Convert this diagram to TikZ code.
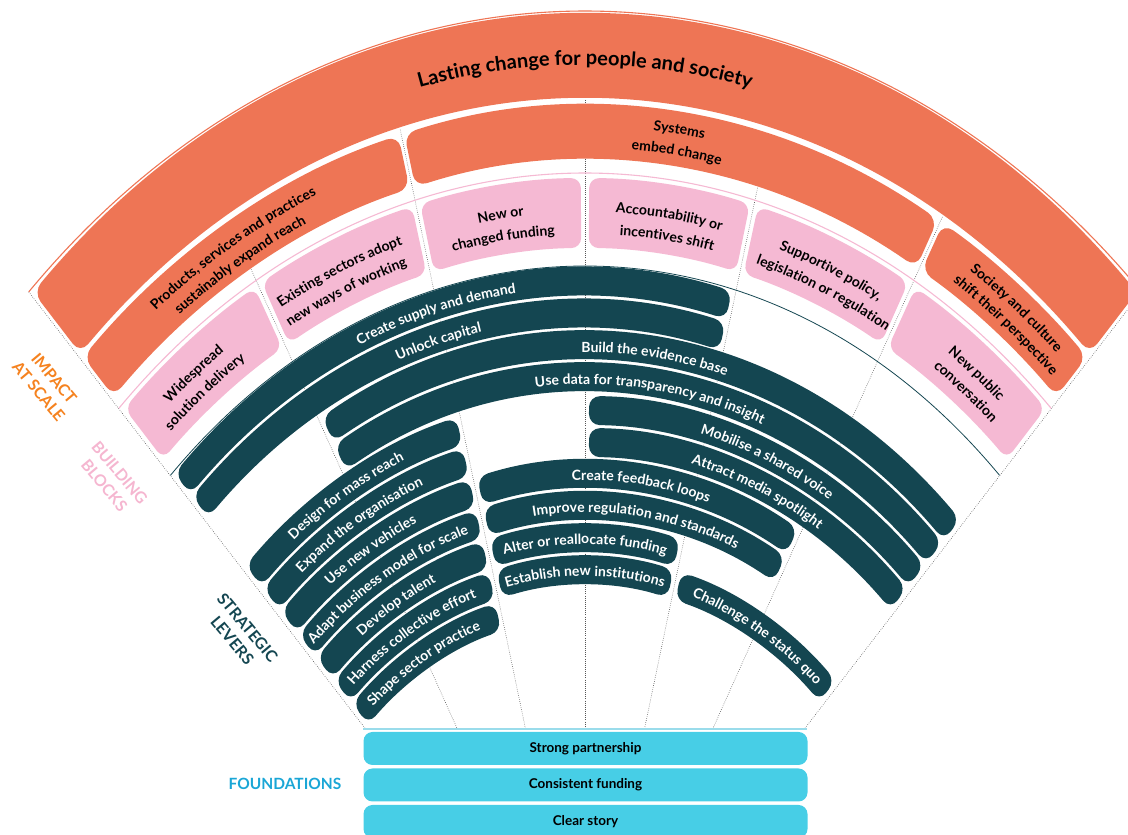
\documentclass[tikz,border=0pt]{standalone}
\usepackage{fontspec}
\setmainfont{Lato}
\usetikzlibrary{decorations.text}
\definecolor{orng}{HTML}{EE7555}
\definecolor{pnk}{HTML}{F5B9D3}
\definecolor{tl}{HTML}{144651}
\definecolor{cyn}{HTML}{47CEE6}
\definecolor{lblorange}{HTML}{F5821F}
\definecolor{lblpink}{HTML}{F5B6D0}
\definecolor{lblblue}{HTML}{1AA6D6}
\definecolor{fline}{HTML}{9ADCEB}
\definecolor{dotgray}{HTML}{555555}
% ring line across the whole fan
\newcommand\fanring[2]{\draw[#2] ({585+0.8*(#1)*sin(-44)},{-177+(#1)*cos(-44)}) arc[start angle=134, end angle=46, x radius={0.8*(#1)}, y radius={#1}];}
% annular sector: th1, th2, r outer, r inner, gap, style
\newcommand\fansect[6]{%
 \pgfmathsetmacro\sA{(#1)+(#5)/(0.4*((#3)+(#4)))*57.2958}%
 \pgfmathsetmacro\sB{(#2)-(#5)/(0.4*((#3)+(#4)))*57.2958}%
 \fill[#6] ({585+0.8*(#3)*sin(\sA)},{-177+(#3)*cos(\sA)}) arc[start angle={90-(\sA)}, end angle={90-(\sB)}, x radius={0.8*(#3)}, y radius={#3}] -- ({585+0.8*(#4)*sin(\sB)},{-177+(#4)*cos(\sB)}) arc[start angle={90-(\sB)}, end angle={90-(\sA)}, x radius={0.8*(#4)}, y radius={#4}] -- cycle;}
% radial dotted line: name, angle, start radius
\newcommand\fanradial[3]{%
 \coordinate (#1s) at ({585+0.8*(#3)*sin(#2)},{-177+(#3)*cos(#2)});
 \coordinate (#1e) at ({585+228*tan(#2)},107);
 \draw[radialline] (#1s) -- (#1e);}
% text along an arc: centre angle, baseline radius, format, text
\newcommand\arctxt[4]{%
 \path[decorate,decoration={text along path,text align=center,text={|#3|#4}}]
 ({585+0.8*(#2)*sin((#1)-18)},{-177+(#2)*cos((#1)-18)}) arc[start angle={108-(#1)}, end angle={72-(#1)}, x radius={0.8*(#2)}, y radius={#2}];}
\def\tfmt{\color{white}\bfseries\fontsize{14}{16}\selectfont}
\def\bfmt{\color{black}\bfseries\fontsize{14}{16}\selectfont}
\def\lfmt{\color{black}\bfseries\fontsize{20}{22}\selectfont}
\tikzset{
 orngbox/.style={fill=orng, rounded corners=12pt},
 pinkbox/.style={fill=pnk, rounded corners=10pt},
 tealbox/.style={fill=tl, rounded corners=11pt},
 radialline/.style={draw=dotgray, line width=0.6pt, dash pattern=on 0.6pt off 1.5pt},
 sidelabel/.style={font=\bfseries\fontsize{16}{20}\selectfont, align=center, rotate=-50},
 fbox/.style={fill=cyn, rounded corners=9pt, minimum width=444pt, minimum height=33pt, inner sep=0pt, font=\bfseries\fontsize{13.5}{15}\selectfont},
}
\begin{document}
\begin{tikzpicture}[x=1pt,y=1pt]
\useasboundingbox (0,0) rectangle (1128,835);
% radial dotted lines
\fanradial{rL}{-44}{1001}
\fanradial{rR}{44}{1001}
\fanradial{rA}{-29.333}{852}
\fanradial{rB}{-14.667}{912}
\fanradial{rC}{0}{912}
\fanradial{rD}{14.667}{852}
\fanradial{rE}{29.333}{912}
% thin ring lines
\fanring{1001}{orng, line width=1.1pt}
\fanring{839}{pnk, line width=1.1pt}
\fanring{746}{tl, line width=0.8pt}
% impact at scale
\fansect{-44}{44}{997}{912}{3}{orngbox}
\fansect{-44}{-14.667}{907}{852}{3}{orngbox}
\fansect{-14.667}{29.333}{907}{852}{3}{orngbox}
\fansect{29.333}{44}{907}{852}{3}{orngbox}
% building blocks
\fansect{-44}{-29.333}{834}{764}{4}{pinkbox}
\fansect{-29.333}{-14.667}{834}{764}{4}{pinkbox}
\fansect{-14.667}{0}{834}{764}{4}{pinkbox}
\fansect{0}{14.667}{834}{764}{4}{pinkbox}
\fansect{14.667}{29.333}{834}{764}{4}{pinkbox}
\fansect{29.333}{44}{834}{764}{4}{pinkbox}
% strategic levers
\fansect{-44}{14.667}{744}{715}{4}{tealbox}
\fansect{-44}{14.667}{712}{683}{4}{tealbox}
\fansect{-29.333}{44}{680}{651}{4}{tealbox}
\fansect{-29.333}{44}{648}{619}{4}{tealbox}
\fansect{-44}{-14.667}{616}{587}{4}{tealbox}
\fansect{0}{44}{616}{587}{4}{tealbox}
\fansect{-44}{-14.667}{584}{555}{4}{tealbox}
\fansect{0}{44}{584}{555}{4}{tealbox}
\fansect{-44}{-14.667}{552}{523}{4}{tealbox}
\fansect{-14.667}{29.333}{552}{523}{4}{tealbox}
\fansect{-44}{-14.667}{520}{491}{4}{tealbox}
\fansect{-14.667}{29.333}{520}{491}{4}{tealbox}
\fansect{-44}{-14.667}{488}{459}{4}{tealbox}
\fansect{-14.667}{14.667}{488}{459}{4}{tealbox}
\fansect{-44}{-14.667}{456}{427}{4}{tealbox}
\fansect{-14.667}{14.667}{456}{427}{4}{tealbox}
\fansect{14.667}{44}{456}{427}{4}{tealbox}
\fansect{-44}{-14.667}{424}{395}{4}{tealbox}
% texts: impact
\arctxt{0}{947}{\lfmt}{Lasting change for people and society}
\arctxt{-29.4}{883}{\bfmt}{Products, services and practices}
\arctxt{-29.4}{862}{\bfmt}{sustainably expand reach}
\arctxt{7.4}{886}{\bfmt}{Systems}
\arctxt{7.4}{864}{\bfmt}{embed change}
\arctxt{36.8}{884}{\bfmt}{Society and culture}
\arctxt{36.8}{863}{\bfmt}{shift their perspective}
% texts: building blocks
\arctxt{-36.8}{800}{\bfmt}{Widespread}
\arctxt{-36.8}{778}{\bfmt}{solution delivery}
\arctxt{-22}{800}{\bfmt}{Existing sectors adopt}
\arctxt{-22}{778}{\bfmt}{new ways of working}
\arctxt{-7.33}{800}{\bfmt}{New or}
\arctxt{-7.33}{778}{\bfmt}{changed funding}
\arctxt{7.33}{800}{\bfmt}{Accountability or}
\arctxt{7.33}{778}{\bfmt}{incentives shift}
\arctxt{22}{800}{\bfmt}{Supportive policy,}
\arctxt{22}{778}{\bfmt}{legislation or regulation}
\arctxt{36.8}{800}{\bfmt}{New public}
\arctxt{36.8}{778}{\bfmt}{conversation}
% texts: levers
\arctxt{-14.6}{724}{\tfmt}{Create supply and demand}
\arctxt{-14.9}{692}{\tfmt}{Unlock capital}
\arctxt{7.4}{660}{\tfmt}{Build the evidence base}
\arctxt{7.4}{628}{\tfmt}{Use data for transparency and insight}
\arctxt{-29.5}{596}{\tfmt}{Design for mass reach}
\arctxt{22}{596}{\tfmt}{Mobilise a shared voice}
\arctxt{-29.5}{564}{\tfmt}{Expand the organisation}
\arctxt{22}{564}{\tfmt}{Attract media spotlight}
\arctxt{-29.5}{532}{\tfmt}{Use new vehicles}
\arctxt{7.4}{532}{\tfmt}{Create feedback loops}
\arctxt{-29.5}{500}{\tfmt}{Adapt business model for scale}
\arctxt{7.3}{500}{\tfmt}{Improve regulation and standards}
\arctxt{-29.5}{468}{\tfmt}{Develop talent}
\arctxt{0}{468}{\tfmt}{Alter or reallocate funding}
\arctxt{-29.5}{436}{\tfmt}{Harness collective effort}
\arctxt{0}{436}{\tfmt}{Establish new institutions}
\arctxt{29.33}{436}{\tfmt}{Challenge the status quo}
\arctxt{-29.5}{404}{\tfmt}{Shape sector practice}
% side labels
\node[sidelabel, text=lblorange] (impact) at (46.5,450) {IMPACT\\AT SCALE};
\node[sidelabel, text=lblpink] (blocks) at (112,356) {BUILDING\\BLOCKS};
\node[sidelabel, text=tl] (levers) at (240,201) {STRATEGIC\\LEVERS};
\node[font=\bfseries\fontsize{15.5}{17}\selectfont, text=lblblue] (found) at (285,51) {FOUNDATIONS};
% foundations
\draw[fline, line width=1.6pt] (363,106) -- (807,106);
\node[fbox] (f1) at (585.5,86.5) {Strong partnership};
\node[fbox] (f2) at (585.5,50) {Consistent funding};
\node[fbox] (f3) at (585.5,13.5) {Clear story};
\end{tikzpicture}
\end{document}
